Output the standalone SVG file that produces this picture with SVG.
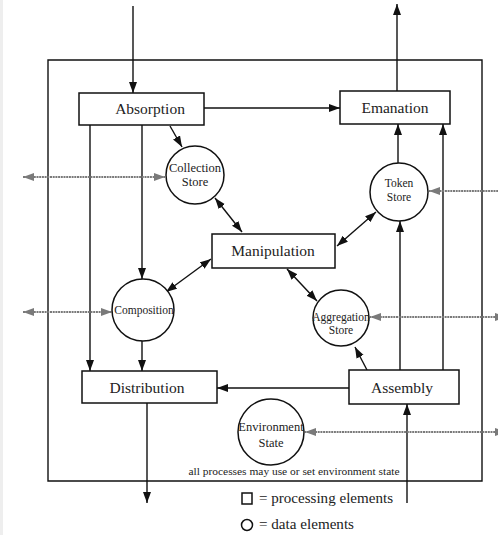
<svg xmlns="http://www.w3.org/2000/svg" width="498" height="535" viewBox="0 0 498 535">
<defs>
<style>
.box{fill:#fff;stroke:#111;stroke-width:1.5}
.circ{fill:#fff;stroke:#111;stroke-width:1.5}
.ln{fill:none;stroke:#111;stroke-width:1.4}
.dot{fill:none;stroke:#7a7a7a;stroke-width:2;stroke-dasharray:2 0.7}
.t{font-family:"Liberation Serif","Times New Roman",serif;fill:#222;text-anchor:middle}
.big{font-size:15.5px}
.sm{font-size:11.5px}
</style>
<marker id="a" markerUnits="userSpaceOnUse" markerWidth="12" markerHeight="9" refX="11" refY="4" orient="auto-start-reverse" viewBox="0 0 12 9">
<path d="M0,0 L11,4 L0,8 z" fill="#111"/>
</marker>
<marker id="g" markerUnits="userSpaceOnUse" markerWidth="12" markerHeight="9" refX="11" refY="4" orient="auto-start-reverse" viewBox="0 0 12 9">
<path d="M0,0 L11,4 L0,8 z" fill="#7a7a7a"/>
</marker>
</defs>
<rect width="498" height="535" fill="#fff"/>
<rect x="0" y="0" width="3" height="535" fill="#eee"/>

<g id="frame">
<path class="ln" d="M48,60 H482 V481 H48 Z"/>
</g>

<g id="connectors">
<line class="ln" x1="133" y1="6" x2="133" y2="93" marker-end="url(#a)"/>
<line class="ln" x1="204" y1="108" x2="340" y2="108" marker-end="url(#a)"/>
<line class="ln" x1="397" y1="91" x2="397" y2="4" marker-end="url(#a)"/>
<line class="ln" x1="90" y1="125" x2="90" y2="371" marker-end="url(#a)"/>
<line class="ln" x1="142" y1="125" x2="142" y2="279" marker-end="url(#a)"/>
<line class="ln" x1="170" y1="126" x2="182" y2="147" marker-end="url(#a)"/>
<line class="ln" x1="215" y1="198" x2="242" y2="232" marker-start="url(#a)" marker-end="url(#a)"/>
<line class="ln" x1="376" y1="212" x2="337" y2="246" marker-start="url(#a)" marker-end="url(#a)"/>
<line class="ln" x1="211" y1="259" x2="166" y2="292" marker-start="url(#a)" marker-end="url(#a)"/>
<line class="ln" x1="287" y1="269" x2="317" y2="301" marker-start="url(#a)" marker-end="url(#a)"/>
<line class="ln" x1="398" y1="163" x2="398" y2="124" marker-end="url(#a)"/>
<line class="ln" x1="443" y1="370" x2="443" y2="124" marker-end="url(#a)"/>
<line class="ln" x1="400" y1="370" x2="400" y2="221" marker-end="url(#a)"/>
<line class="ln" x1="367" y1="370" x2="355" y2="347" marker-end="url(#a)"/>
<line class="ln" x1="142" y1="341" x2="142" y2="371" marker-end="url(#a)"/>
<line class="ln" x1="349" y1="388" x2="217" y2="388" marker-end="url(#a)"/>
<line class="ln" x1="147" y1="403" x2="147" y2="503" marker-end="url(#a)"/>
<line class="ln" x1="407" y1="503" x2="407" y2="404" marker-end="url(#a)"/>
<line class="dot" x1="23" y1="177" x2="165" y2="177" marker-start="url(#g)" marker-end="url(#g)"/>
<line class="dot" x1="23" y1="312" x2="112" y2="312" marker-start="url(#g)" marker-end="url(#g)"/>
<line class="dot" x1="509" y1="191" x2="429" y2="191" marker-start="url(#g)" marker-end="url(#g)"/>
<line class="dot" x1="506" y1="317" x2="370" y2="317" marker-start="url(#g)" marker-end="url(#g)"/>
<line class="dot" x1="506" y1="432" x2="305" y2="432" marker-start="url(#g)" marker-end="url(#g)"/>
</g>

<g id="absorption">
<rect class="box" x="79" y="93" width="125" height="32"/>
<text class="t big" x="150" y="114">Absorption</text>
</g>
<g id="emanation">
<rect class="box" x="340" y="91" width="110" height="33"/>
<text class="t big" x="395" y="113">Emanation</text>
</g>
<g id="manipulation">
<rect class="box" x="212" y="234" width="123" height="34"/>
<text class="t big" x="273" y="256">Manipulation</text>
</g>
<g id="distribution">
<rect class="box" x="82" y="371" width="135" height="32"/>
<text class="t big" x="147" y="393">Distribution</text>
</g>
<g id="assembly">
<rect class="box" x="349" y="370" width="110" height="34"/>
<text class="t big" x="402" y="393">Assembly</text>
</g>
<g id="collection-store">
<circle class="circ" cx="195" cy="175" r="29"/>
<text class="t" font-size="12.5" x="195" y="172">Collection</text>
<text class="t" font-size="12.5" x="195" y="186">Store</text>
</g>
<g id="token-store">
<circle class="circ" cx="399" cy="192" r="29"/>
<text class="t sm" x="399" y="187">Token</text>
<text class="t sm" x="399" y="201">Store</text>
</g>
<g id="composition">
<circle class="circ" cx="143" cy="310" r="31"/>
<text class="t sm" x="144" y="314">Composition</text>
</g>
<g id="aggregation-store">
<circle class="circ" cx="341" cy="318" r="28"/>
<text class="t sm" x="341" y="321">Aggregation</text>
<text class="t sm" x="341" y="334">Store</text>
</g>
<g id="environment-state">
<circle class="circ" cx="271" cy="432" r="33"/>
<text class="t" font-size="12.5" x="271" y="431">Environment</text>
<text class="t" font-size="12.5" x="271" y="447">State</text>
</g>

<text class="t" font-size="9.5" x="294" y="475" textLength="211" lengthAdjust="spacingAndGlyphs">all processes may use or set environment state</text>

<g id="legend">
<rect x="242" y="493" width="10" height="11" fill="none" stroke="#111" stroke-width="1.5"/>
<text class="t" font-size="15" x="259" y="503" style="text-anchor:start" textLength="134" lengthAdjust="spacingAndGlyphs">= processing elements</text>
<circle cx="247" cy="525" r="5.5" fill="none" stroke="#111" stroke-width="1.5"/>
<text class="t" font-size="15" x="259" y="529" style="text-anchor:start" textLength="95" lengthAdjust="spacingAndGlyphs">= data elements</text>
</g>
</svg>
